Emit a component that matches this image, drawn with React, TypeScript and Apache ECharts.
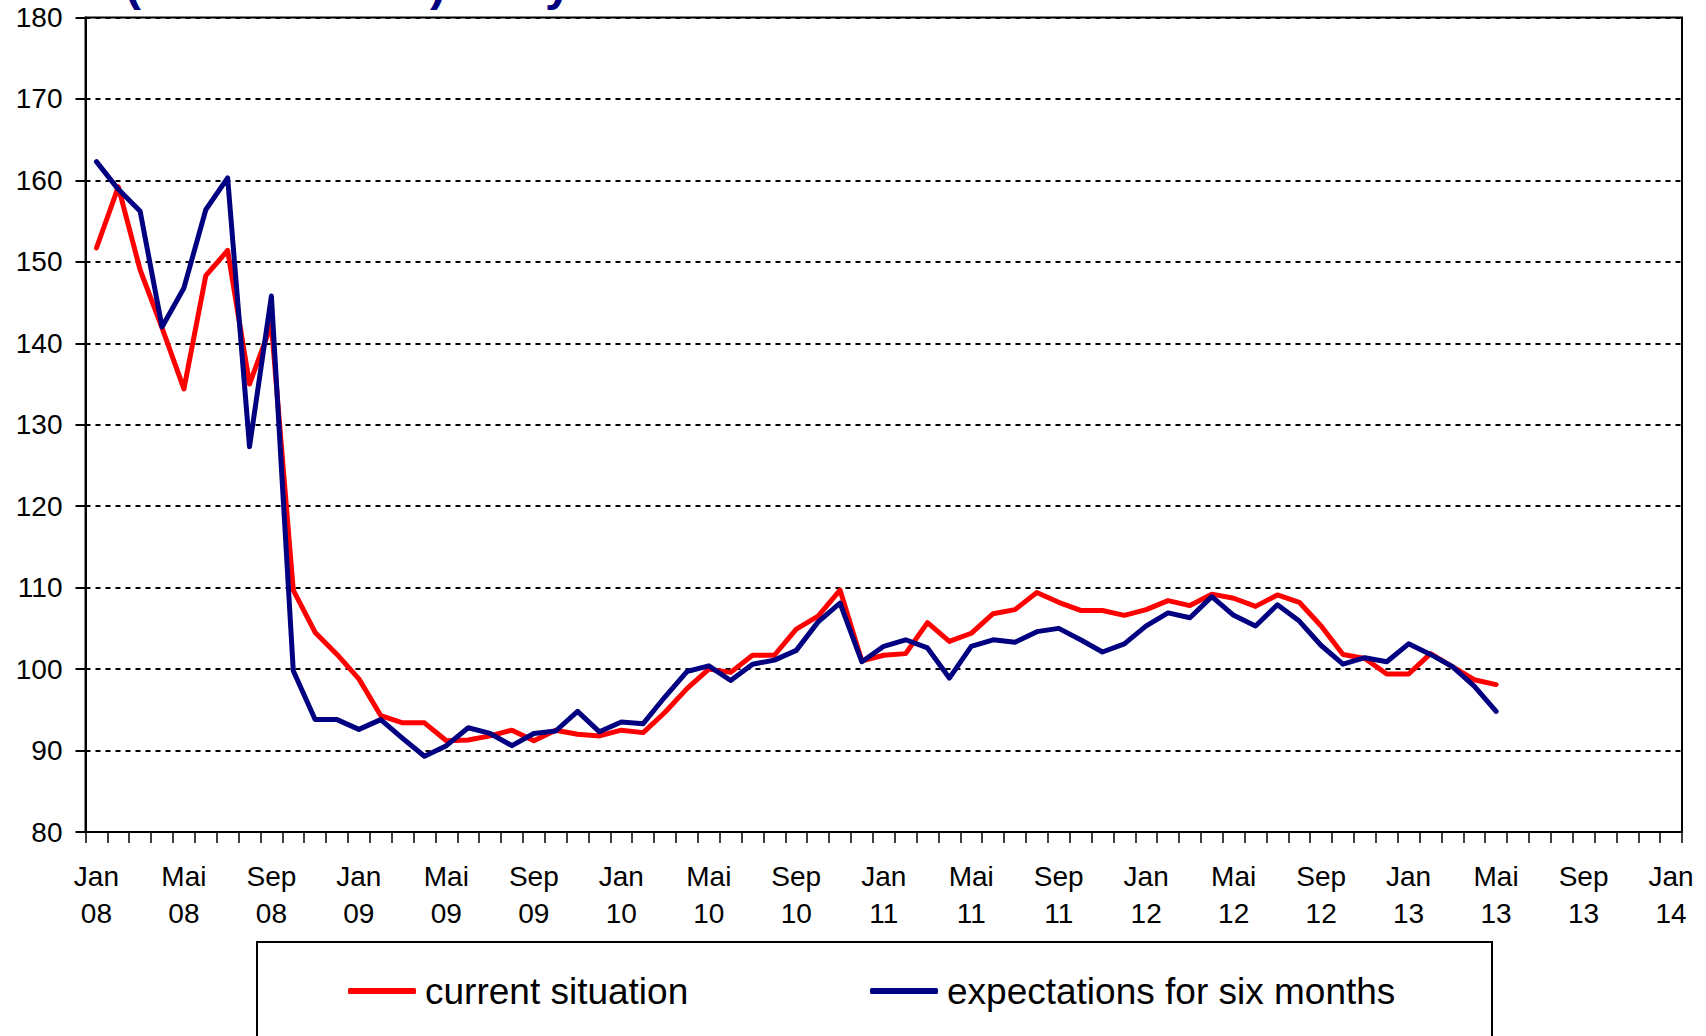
import React, { useEffect, useRef } from "react";
import * as echarts from "echarts";

// Tick label building blocks (German month abbreviations, two-digit years)
const monthNames = ["Jan", "Feb", "Mär", "Apr", "Mai", "Jun", "Jul", "Aug", "Sep", "Okt", "Nov", "Dez"];
const yearLabels = ["08", "09", "10", "11", "12", "13"];
const lastCategory = "Jan\n14";

// current situation, Jan 08 .. May 13
const currentSituation = [
  151.7, 159.2, 149.0, 141.9, 134.4, 148.3, 151.4, 135.0, 142.3, 109.7, 104.5, 101.8,
  98.8, 94.3, 93.4, 93.4, 91.2, 91.3, 91.8, 92.5, 91.2, 92.5, 92.0, 91.8,
  92.5, 92.2, 94.7, 97.6, 100.0, 99.6, 101.7, 101.7, 104.9, 106.5, 109.7, 101.0,
  101.7, 101.9, 105.7, 103.4, 104.4, 106.8, 107.3, 109.4, 108.2, 107.2, 107.2, 106.6,
  107.3, 108.4, 107.8, 109.2, 108.7, 107.7, 109.1, 108.2, 105.3, 101.8, 101.3, 99.4,
  99.4, 101.9, 100.3, 98.7, 98.1,
];

// expectations for six months, Jan 08 .. May 13
const expectations = [
  162.3, 158.9, 156.2, 142.0, 146.8, 156.4, 160.3, 127.3, 145.8, 99.8, 93.8, 93.8,
  92.6, 93.8, 91.5, 89.3, 90.6, 92.8, 92.1, 90.6, 92.1, 92.4, 94.8, 92.3,
  93.5, 93.3, 96.6, 99.7, 100.4, 98.6, 100.6, 101.1, 102.3, 105.8, 108.1, 100.9,
  102.8, 103.6, 102.6, 98.9, 102.8, 103.6, 103.3, 104.6, 105.0, 103.6, 102.1, 103.1,
  105.3, 106.9, 106.3, 108.9, 106.6, 105.3, 107.9, 105.9, 102.9, 100.6, 101.4, 100.9,
  103.1, 101.8, 100.3, 97.9, 94.8,
];

const seriesNames = ["current situation", "expectations for six months"];

const categories: string[] = [];
yearLabels.forEach((y) => monthNames.forEach((m) => categories.push(`${m}\n${y}`)));
categories.push(lastCategory);

const FONT = "'Liberation Sans', Arial, Helvetica, sans-serif";

export default function App() {
  const ref = useRef<HTMLDivElement>(null);

  useEffect(() => {
    if (!ref.current) return;
    const chart = echarts.init(ref.current, undefined, { renderer: "svg" });
    const legendText = { fontSize: 37, color: "#000", fontFamily: FONT, lineHeight: 40, padding: [0, 0, 0, 4] };
    const option: any = {
      animation: false,
      backgroundColor: "#ffffff",
      textStyle: { fontFamily: FONT },
      grid: {
        left: 85.5,
        right: 24,
        top: 17.5,
        bottom: 204,
        show: true,
        borderColor: "#000",
        borderWidth: 2,
        backgroundColor: "transparent",
      },
      xAxis: {
        type: "category",
        data: categories,
        boundaryGap: true,
        axisLine: { show: true, lineStyle: { color: "#000", width: 2 } },
        axisTick: { show: true, interval: 0, length: 11, lineStyle: { color: "#000", width: 1.5 } },
        axisLabel: {
          interval: 3,
          color: "#000",
          fontSize: 28,
          fontFamily: FONT,
          lineHeight: 37,
          margin: 26,
          align: "center",
        },
        splitLine: { show: false },
      },
      yAxis: {
        type: "value",
        min: 80,
        max: 180,
        interval: 10,
        axisLine: { show: true, lineStyle: { color: "#000", width: 2 } },
        axisTick: { show: true, length: 10, lineStyle: { color: "#000", width: 2 } },
        axisLabel: { color: "#000", fontSize: 28, fontFamily: FONT, margin: 23 },
        splitLine: { show: true, lineStyle: { color: "#000", width: 2, type: [5, 5] } },
      },
      legend: [
        {
          data: [seriesNames[0]],
          left: 348,
          top: 971,
          padding: 0,
          icon: "roundRect",
          itemWidth: 68,
          itemHeight: 6,
          textStyle: legendText,
          selectedMode: false,
        },
        {
          data: [seriesNames[1]],
          left: 870,
          top: 971,
          padding: 0,
          icon: "roundRect",
          itemWidth: 68,
          itemHeight: 6,
          textStyle: legendText,
          selectedMode: false,
        },
      ],
      graphic: [
        {
          type: "rect",
          shape: { x: 257, y: 942, width: 1235, height: 200 },
          style: { fill: "none", stroke: "#000", lineWidth: 2 },
          z: 0,
        },
        {
          type: "text",
          x: 125,
          y: -17,
          style: { text: "(", fontSize: 48, fontWeight: "bold", fill: "#000080", fontFamily: FONT, verticalAlign: "middle", align: "left" },
        },
        {
          type: "text",
          x: 430,
          y: -17,
          style: { text: ")", fontSize: 48, fontWeight: "bold", fill: "#000080", fontFamily: FONT, verticalAlign: "middle", align: "left" },
        },
        {
          type: "text",
          x: 545,
          y: -17,
          style: { text: "y", fontSize: 48, fontWeight: "bold", fill: "#000080", fontFamily: FONT, verticalAlign: "middle", align: "left" },
        },
      ],
      series: [
        {
          name: seriesNames[0],
          type: "line",
          data: currentSituation,
          symbol: "none",
          showSymbol: false,
          color: "#ff0000",
          lineStyle: { color: "#ff0000", width: 5, join: "round", cap: "round" },
          z: 3,
        },
        {
          name: seriesNames[1],
          type: "line",
          data: expectations,
          symbol: "none",
          showSymbol: false,
          color: "#000080",
          lineStyle: { color: "#000080", width: 5, join: "round", cap: "round" },
          z: 4,
        },
      ],
    };
    chart.setOption(option);
    return () => chart.dispose();
  }, []);

  return (
    <div
      ref={ref}
      style={{ position: "fixed", left: 0, top: 0, width: 1706, height: 1036, background: "#fff" }}
    />
  );
}
